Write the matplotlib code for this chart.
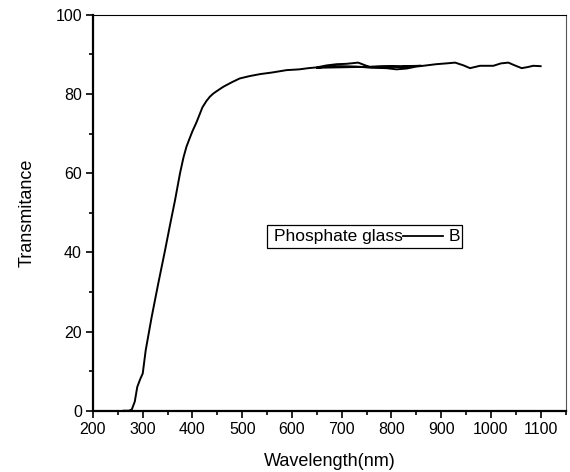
import numpy as np
from matplotlib import pyplot as plt
from matplotlib.ticker import MultipleLocator
from matplotlib.patches import Rectangle

plt.rcParams['font.family'] = ['Liberation Sans', 'DejaVu Sans']

# first scan (UV-vis range)
wl_uv = [262, 272, 278, 284, 289, 295, 300, 306, 318, 331, 345, 355, 365, 375,
         382, 388, 395, 400, 408, 414, 420, 428, 435, 442, 450, 462, 480, 495, 515, 536, 560, 589,
         615, 633, 650, 670, 690, 710, 733, 756, 780, 800, 820, 840, 860]
tr_uv = [0.0, 0.0, 0.3, 2.3, 6.0, 8.0, 9.4, 15.3, 23.7, 32.0, 40.6, 47.0, 53.2, 60.0,
         64.0, 66.7, 69.0, 70.6, 72.8, 74.7, 76.6, 78.2, 79.3, 80.1, 80.8, 81.8, 83.0, 83.9, 84.5, 85.0, 85.4, 86.0,
         86.2, 86.5, 86.7, 87.2, 87.5, 87.6, 87.9, 86.8, 86.9, 86.9, 86.8, 87.0, 87.1]
# second scan (NIR range), overlaps the first one
wl_nir = [650, 670, 700, 730, 760, 790, 810, 830, 850, 864, 890, 910, 928, 945,
          958, 978, 1005, 1020, 1035, 1048, 1062, 1075, 1085, 1100]
tr_nir = [86.6, 86.9, 87.0, 86.9, 86.6, 86.5, 86.2, 86.4, 86.9, 87.1, 87.5, 87.7, 87.9, 87.2,
          86.5, 87.1, 87.1, 87.7, 87.9, 87.2, 86.5, 86.8, 87.1, 87.0]

fig = plt.figure(figsize=(5.7, 4.72), dpi=100)
ax = fig.add_axes([93/570, 1 - 410.7/472, (566 - 93)/570, (410.7 - 14.7)/472])

ax.plot(wl_uv + wl_nir, tr_uv + tr_nir, color='black', lw=1.4)

ax.set_xlim(200, 1151)
ax.set_ylim(0, 100)
ax.xaxis.set_major_locator(MultipleLocator(100))
ax.xaxis.set_minor_locator(MultipleLocator(50))
ax.yaxis.set_major_locator(MultipleLocator(20))
ax.yaxis.set_minor_locator(MultipleLocator(10))
ax.tick_params(which='both', direction='out', top=False, right=False, labelsize=11.5, width=1.2)
ax.tick_params(which='major', length=5, pad=3)
ax.tick_params(which='minor', length=3)
ax.spines['left'].set_linewidth(1.6)
ax.spines['bottom'].set_linewidth(1.6)
ax.spines['top'].set_linewidth(0.8)
ax.spines['right'].set_linewidth(0.8)
ax.spines['right'].set_color('#555555')

ax.set_xlabel('Wavelength(nm)', fontsize=13, labelpad=12)
ax.set_ylabel('Transmitance', fontsize=13, labelpad=14)

# legend box: "Phosphate glass —— B"
ax.add_patch(Rectangle((0.368, 0.411), 0.412, 0.058, transform=ax.transAxes,
                       fill=False, ec='black', lw=0.9))
ax.text(0.383, 0.440, 'Phosphate glass', transform=ax.transAxes,
        fontsize=12.5, va='center', ha='left')
ax.plot([0.655, 0.740], [0.440, 0.440], transform=ax.transAxes, color='black', lw=1.3)
ax.text(0.752, 0.440, 'B', transform=ax.transAxes, fontsize=12.5, va='center', ha='left')

fig.savefig('out.png', dpi=100)
